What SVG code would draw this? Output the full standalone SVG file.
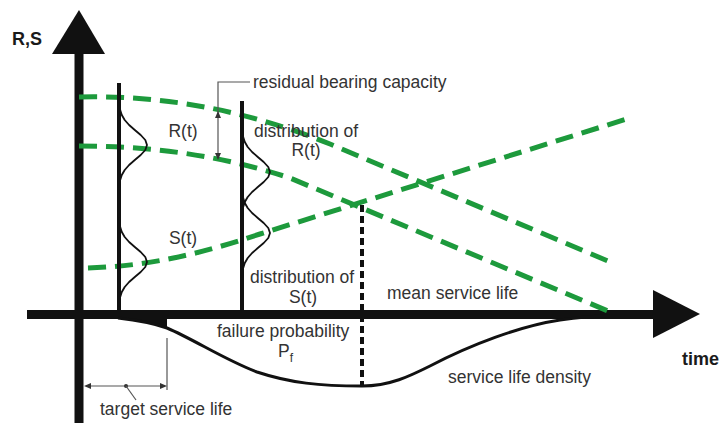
<svg xmlns="http://www.w3.org/2000/svg" xmlns:xlink="http://www.w3.org/1999/xlink" width="720" height="423" viewBox="0 0 720 423">
<style>
.t{font-family:"Liberation Sans",Arial,sans-serif;font-size:17.5px;fill:#333}
.b{font-family:"Liberation Sans",Arial,sans-serif;font-size:18px;font-weight:bold;fill:#1a1a1a}
.g{fill:none;stroke:#1d9a3c;stroke-width:5;stroke-dasharray:18 9}
.thin{fill:none;stroke:#555;stroke-width:1.2}
.bell{fill:none;stroke:#111;stroke-width:1.8;stroke-linejoin:round}
.ax{stroke:#111;fill:none}
</style>
<defs>
<path id="bell" d="M0,-45 L0.5,-40 L1.2,-35 L2.8,-30 L5.7,-25 L10.1,-20 L15.8,-15 L21.7,-10 L26.3,-5 L28,0 L26.3,5 L21.7,10 L15.8,15 L10.1,20 L5.7,25 L2.8,30 L1.2,35 L0.5,40 L0,45"/>
</defs>
<rect width="720" height="423" fill="#fff"/>

<g id="axes">
<line class="ax" x1="79" y1="50" x2="79" y2="423" stroke-width="9"/>
<polygon points="79,10 52,54 105,54" fill="#111"/>
<line class="ax" x1="27" y1="314.5" x2="655" y2="314.5" stroke-width="9"/>
<polygon points="700,314 653,290 653,338" fill="#111"/>
<text class="b" x="12" y="45">R,S</text>
<text class="b" x="682" y="365">time</text>
</g>

<g id="curves">
<path id="R-upper" class="g" d="M79,97 C170,95 250,112 330,144 L615,264"/>
<path id="R-lower" class="g" d="M79,146 C150,146 220,155 290,178 L608,311"/>
<path id="S-curve" class="g" d="M88,268 C150,266 200,254 260,234 L633,117"/>
</g>

<g id="distribution-lines">
<line x1="119" y1="83" x2="119" y2="312" stroke="#111" stroke-width="4"/>
<line x1="242" y1="101" x2="242" y2="312" stroke="#111" stroke-width="4"/>
<use href="#bell" xlink:href="#bell" x="119" y="145" class="bell"/>
<use href="#bell" xlink:href="#bell" x="119" y="262" class="bell"/>
<use href="#bell" xlink:href="#bell" x="242" y="172" class="bell"/>
<use href="#bell" xlink:href="#bell" x="242" y="233" class="bell"/>
</g>

<g id="mean-service-life">
<line x1="362" y1="205" x2="362" y2="387" stroke="#111" stroke-width="4" stroke-dasharray="7 4"/>
<text class="t" x="387" y="299">mean service life</text>
</g>

<g id="density">
<path d="M118,318 C135,320 150,322 167,327.5 L167,318 Z" fill="#111"/>
<path d="M118,318 C135,320 150,322 167,328 C195,340 225,360 257,372 C290,383 320,386 362,386 C390,386 410,376 430,366 C470,345 520,326 560,320 C580,317 595,316 610,316" fill="none" stroke="#111" stroke-width="3"/>
<text class="t" x="217" y="337">failure probability</text>
<text class="t" x="278" y="357">P<tspan font-size="12" dy="5">f</tspan></text>
<text class="t" x="448" y="383">service life density</text>
</g>

<g id="residual">
<path class="thin" d="M250,82 H218 V158"/>
<polygon points="218,111 215,118 221,118" fill="#333"/>
<polygon points="218,160 215,153 221,153" fill="#333"/>
<text class="t" x="253" y="88">residual bearing capacity</text>
</g>

<g id="labels">
<text class="t" x="183" y="137" text-anchor="middle">R(t)</text>
<text class="t" x="183" y="244" text-anchor="middle">S(t)</text>
<text class="t" x="254" y="137">distribution of</text>
<text class="t" x="306" y="156" text-anchor="middle">R(t)</text>
<text class="t" x="250" y="283">distribution of</text>
<text class="t" x="303" y="303" text-anchor="middle">S(t)</text>
</g>

<g id="target">
<line class="thin" x1="167" y1="338" x2="167" y2="390"/>
<line class="thin" x1="86" y1="386" x2="165" y2="386"/>
<polygon points="84,386 91,383 91,389" fill="#333"/>
<polygon points="167,386 160,383 160,389" fill="#333"/>
<circle cx="126" cy="386" r="2" fill="#333"/>
<line class="thin" x1="126" y1="386" x2="136" y2="400"/>
<text class="t" x="100" y="415">target service life</text>
</g>
</svg>
